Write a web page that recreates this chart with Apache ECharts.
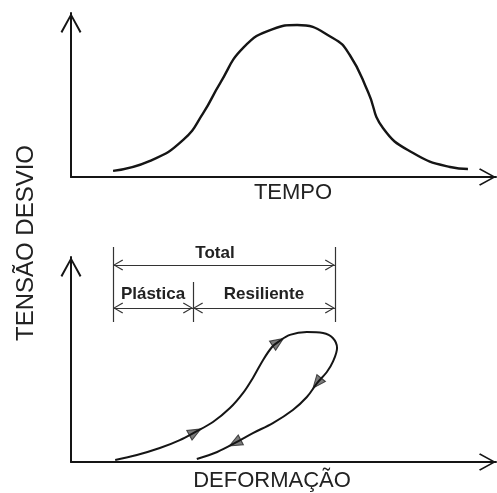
<!DOCTYPE html>
<html>
<head>
<meta charset="utf-8">
<script src="https://cdn.jsdelivr.net/npm/echarts@6/dist/echarts.min.js"></script>
<style>html,body{margin:0;padding:0;background:#fff}</style>
</head>
<body>
<div id="main" style="width:497px;height:493px;"></div>
<script>
// pulso de tensão x tempo (escala 0-100 nos dois eixos)
let pulseTime = [9.9, 18.6, 26.4, 31.1, 35.1, 40.5, 47.5, 53.2, 61.6, 65.6, 69.9, 73.4, 80.5, 89.2, 93.4]
let pulseStress = [3.7, 9.8, 22.6, 39.0, 57.3, 78.7, 90.2, 92.7, 84.8, 74.4, 51.8, 29.9, 14.6, 6.1, 4.9]

// laço tensão x deformação: carregamento, depois descarregamento
let loadStrain = [10.4, 15.5, 20.9, 25.6, 29.2, 33.4, 37.4, 40.5, 42.8, 45.2, 47.3, 48.7, 51.5, 55.5, 59.3, 61.6, 62.6]
let loadStress = [1.0, 3.4, 6.8, 10.7, 14.6, 19.5, 26.3, 33.7, 41.0, 49.8, 56.1, 58.5, 62.0, 63.4, 62.9, 60.5, 55.6]
let unloadStrain = [61.6, 60.2, 57.9, 55.5, 52.2, 47.5, 42.8, 38.6, 34.4, 29.6]
let unloadStress = [48.8, 43.9, 38.5, 31.7, 25.4, 19.0, 14.1, 9.3, 4.9, 1.5]

// setas sobre o laço (direção em graus)
let arrowStrain = [29.2, 48.7, 57.9, 38.6]
let arrowStress = [14.6, 58.5, 38.5, 9.3]
let arrowDir = [29, 34, -129, -152]

// deformação plástica / resiliente / total
let strainMarks = [9.9, 28.7, 62.1]
let markNames = ['Total', 'Plástica', 'Resiliente']

let zip = (a, b) => a.map((v, i) => [v, b[i]])

let chevron = 'path://M10,0 L20,18 L18.4,19.2 L10,3.6 L1.6,19.2 L0,18 Z'
let smallChevron = 'path://M10,0 L20,18 L18.2,19.3 L10,4 L1.8,19.3 L0,18 Z'
let ink = '#151515'
let textColor = '#222'
let font = 'Liberation Sans'

function baseAxis(extra) {
    return Object.assign({
        type: 'value', min: 0, max: 100,
        axisTick: {show: false},
        axisLabel: {show: false},
        splitLine: {show: false}
    }, extra)
}
function xLine() {
    return {lineStyle: {color: ink, width: 2}, symbol: ['none', chevron], symbolSize: [24, 17], symbolOffset: [0, -8.5]}
}
function yLine() {
    return {lineStyle: {color: ink, width: 2}, symbol: ['none', chevron], symbolSize: [22, 20], symbolOffset: [0, -10]}
}
let nameStyle = {fontFamily: font, fontSize: 22, color: textColor}

let loop = zip(loadStrain, loadStress).concat(zip(unloadStrain, unloadStress))
let arrows = arrowStrain.map((x, i) => ({value: [x, arrowStress[i]], symbolRotate: arrowDir[i] - 90}))

// linhas de cota (grade auxiliar, y em px a partir do topo)
let yTotal = 25, yPart = 68, yTopOuter = 7, yTopMid = 42, yBottom = 82
let dimLabel = (name, dist, pad) => ({
    show: true, formatter: name, position: 'insideMiddleTop', distance: dist,
    fontFamily: font, fontWeight: 'bold', fontSize: 17, color: textColor, padding: pad
})
let vert = (x, y0) => [{coord: [x, y0], symbol: 'none', label: {show: false}}, {coord: [x, yBottom], symbol: 'none'}]
let dimData = [
    [{coord: [strainMarks[0], yTotal], label: dimLabel(markNames[0], 3, [0, 18, 0, 0])}, {coord: [strainMarks[2], yTotal]}],
    [{coord: [strainMarks[0], yPart], label: dimLabel(markNames[1], 5, 0)}, {coord: [strainMarks[1], yPart]}],
    [{coord: [strainMarks[1], yPart], label: dimLabel(markNames[2], 5, 0)}, {coord: [strainMarks[2], yPart]}],
    vert(strainMarks[0], yTopOuter),
    vert(strainMarks[1], yTopMid),
    vert(strainMarks[2], yTopOuter)
]

let myChart = echarts.init(document.getElementById('main'))
let option = {
    animation: false,
    backgroundColor: '#fff',
    grid: [
        {left: 71, right: 1, top: 13, height: 164},
        {left: 71, right: 1, top: 257, height: 205},
        {left: 71, right: 1, top: 240, height: 90}
    ],
    xAxis: [
        baseAxis({gridIndex: 0, name: 'TEMPO', nameLocation: 'middle', nameGap: 5,
            nameTextStyle: Object.assign({padding: [0, 0, 0, 19]}, nameStyle), axisLine: xLine()}),
        baseAxis({gridIndex: 1, name: 'DEFORMAÇÃO', nameLocation: 'middle', nameGap: 8,
            nameTextStyle: Object.assign({padding: [0, 23, 0, 0]}, nameStyle), axisLine: xLine()}),
        baseAxis({gridIndex: 2, show: false})
    ],
    yAxis: [
        baseAxis({gridIndex: 0, axisLine: yLine()}),
        baseAxis({gridIndex: 1, axisLine: yLine()}),
        baseAxis({gridIndex: 2, show: false, max: 90, inverse: true})
    ],
    graphic: [{
        type: 'text', x: 26, y: 243, rotation: Math.PI / 2, silent: true,
        style: {text: 'TENSÃO DESVIO', fontFamily: font, fontSize: 24, fill: textColor,
            align: 'center', verticalAlign: 'middle', textAlign: 'center', textVerticalAlign: 'middle'}
    }],
    series: [{
        name: 'pulso',
        type: 'line', xAxisIndex: 0, yAxisIndex: 0,
        data: zip(pulseTime, pulseStress),
        smooth: 0.5, showSymbol: false, silent: true,
        lineStyle: {color: ink, width: 2.4}
    }, {
        name: 'laço',
        type: 'line', xAxisIndex: 1, yAxisIndex: 1,
        data: loop,
        smooth: 0.35, showSymbol: false, silent: true,
        lineStyle: {color: ink, width: 2}
    }, {
        name: 'setas',
        type: 'scatter', xAxisIndex: 1, yAxisIndex: 1,
        data: arrows,
        symbol: 'triangle', symbolSize: [11, 13], silent: true,
        itemStyle: {color: '#5a5a5a', borderColor: '#222', borderWidth: 1}
    }, {
        name: 'cotas',
        type: 'line', xAxisIndex: 2, yAxisIndex: 2,
        data: [],
        markLine: {
            silent: true, animation: false,
            symbol: [smallChevron, smallChevron], symbolSize: [11, 10],
            symbolOffset: [[0, 5], [0, 5]],
            lineStyle: {color: '#333', width: 1.2, type: 'solid'},
            label: {show: false},
            emphasis: {disabled: true},
            data: dimData
        }
    }]
}
myChart.setOption(option)
</script>
</body>
</html>
